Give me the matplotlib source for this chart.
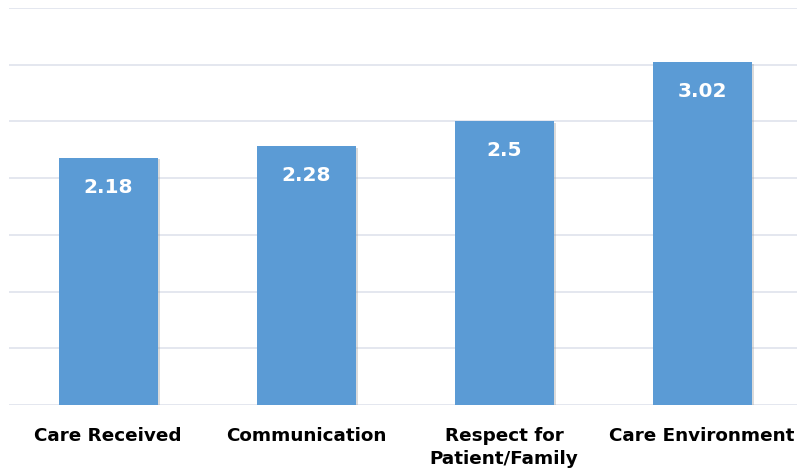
import matplotlib.pyplot as plt
import matplotlib.patheffects as pe

# Rata-rata skor per kategori
kategori = ["Care Received", "Communication", "Respect for\nPatient/Family", "Care Environment"]
skor = [2.18, 2.28, 2.5, 3.02]

warna_bar = "#5B9BD5"
warna_grid = "#E2E5EE"

fig = plt.figure(figsize=(7.97, 4.74), dpi=100)
ax = fig.add_axes([9 / 797, 69 / 474, 792 / 797, 397 / 474])

posisi = range(len(kategori))
bars = ax.bar(posisi, skor, width=0.5, color=warna_bar, zorder=3)
# bayangan tipis di sisi bar
for b in bars:
    b.set_path_effects([pe.SimplePatchShadow(offset=(1.5, -1), shadow_rgbFace="#9a9a9a", alpha=0.35),
                        pe.Normal()])

# Label nilai di dalam bar
for b, nilai in zip(bars, skor):
    ax.text(b.get_x() + b.get_width() / 2, nilai - 0.26, f"{nilai:g}",
            ha="center", va="center", color="white", fontsize=14.5,
            fontweight="heavy", zorder=4)

ax.set_xlim(-0.5, 3.5)
ax.set_ylim(0, 3.5)
ax.set_yticks([i * 0.5 for i in range(8)])
ax.set_yticklabels([])
ax.tick_params(axis="y", length=0)
ax.grid(axis="y", color=warna_grid, linewidth=1.3, zorder=0)

ax.set_xticks(list(posisi))
ax.set_xticklabels(kategori, fontsize=13.2, fontweight="bold", linespacing=1.35,
                   va="top")
ax.tick_params(axis="x", length=0, pad=16)

for sisi in ax.spines.values():
    sisi.set_visible(False)

fig.savefig("out.png", dpi=100)
